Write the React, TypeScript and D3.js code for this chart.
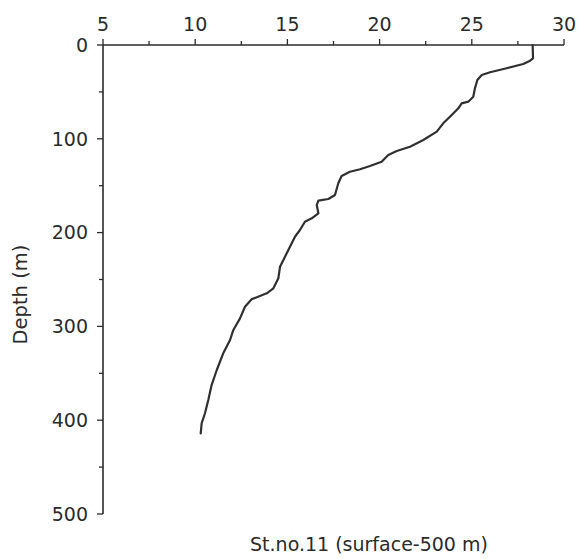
import * as d3 from 'd3';

// temperature (°C) vs depth (m)
const temperature = [
  28.3, 28.32, 28.16, 27.79, 26.89, 25.99, 25.54, 25.3, 25.17, 25.08, 24.81, 24.45, 24.27,
  23.91, 23.45, 23.1, 22.37, 21.65, 20.93, 20.47, 20.11, 19.48, 18.94, 18.39, 17.94, 17.76,
  17.58, 17.22, 16.68, 16.59, 16.68, 16.32, 15.95, 15.68, 15.41, 15.14, 14.87, 14.6, 14.51,
  14.24, 13.88, 13.06, 12.7, 12.43, 12.07, 11.89, 11.52, 11.17, 10.89, 10.71, 10.53, 10.35, 10.3,
];
const depth = [
  0, 14.2, 16.7, 20.3, 24.8, 29.1, 32.0, 37.3, 46.2, 55.1, 60.4, 62.2, 67.5,
  74.6, 83.5, 92.4, 101.3, 108.4, 113.0, 117.3, 124.4, 129.0, 132.5, 135.1, 139.7, 147.4,
  159.9, 164.2, 166.0, 170.6, 179.4, 184.8, 188.4, 197.2, 204.4, 215.0, 225.7, 236.4, 248.7,
  259.4, 264.7, 271.1, 279.0, 291.4, 303.8, 314.5, 328.7, 346.5, 362.5, 378.5, 392.6, 403.3, 414.0,
];
const xTicks = [5, 10, 15, 20, 25, 30];
const xMinor = [7.5, 12.5, 17.5, 22.5, 27.5];
const yTicks = [0, 100, 200, 300, 400, 500];
const yMinor = [50, 150, 250, 350, 450];

const width = 579;
const height = 559;
const ink = '#2b2b2b';
const font = '"DejaVu Sans", Verdana, sans-serif';

export default function App() {
  const x = d3.scaleLinear().domain([5, 30]).range([103, 564]);
  const y = d3.scaleLinear().domain([0, 500]).range([45, 514]);

  const line = d3
    .line<number>()
    .x((d) => x(d))
    .y((_, i) => y(depth[i]));

  return (
    <svg
      width={width}
      height={height}
      style={{ position: 'absolute', left: 0, top: 0, background: '#fff' }}
      fontFamily={font}
    >
      {/* top temperature axis */}
      <line x1={x(5)} x2={x(30)} y1={y(0)} y2={y(0)} stroke={ink} strokeWidth={1.6} />
      {xTicks.map((t) => (
        <g key={'xt' + t}>
          <line x1={x(t)} x2={x(t)} y1={y(0)} y2={y(0) - 6} stroke={ink} strokeWidth={1.3} />
          <text x={x(t)} y={31} textAnchor="middle" fontSize={19} fill={ink}>
            {t}
          </text>
        </g>
      ))}
      {xMinor.map((t) => (
        <line key={'xm' + t} x1={x(t)} x2={x(t)} y1={y(0)} y2={y(0) - 4} stroke={ink} strokeWidth={1.3} />
      ))}

      {/* depth axis */}
      <line x1={x(5)} x2={x(5)} y1={y(0)} y2={y(500)} stroke={ink} strokeWidth={1.6} />
      {yTicks.map((t) => (
        <g key={'yt' + t}>
          <line x1={x(5)} x2={x(5) - 6} y1={y(t)} y2={y(t)} stroke={ink} strokeWidth={1.3} />
          <text x={x(5) - 15} y={y(t)} dy="0.36em" textAnchor="end" fontSize={19} fill={ink}>
            {t}
          </text>
        </g>
      ))}
      {yMinor.map((t) => (
        <line key={'ym' + t} x1={x(5)} x2={x(5) - 4} y1={y(t)} y2={y(t)} stroke={ink} strokeWidth={1.3} />
      ))}

      <text
        transform={`translate(27,${y(266)}) rotate(-90)`}
        textAnchor="middle"
        fontSize={19.5}
        fill={ink}
      >
        Depth (m)
      </text>

      <path
        d={line(temperature) ?? ''}
        fill="none"
        stroke="#303030"
        strokeWidth={2.2}
        strokeLinejoin="round"
        strokeLinecap="round"
      />

      <text x={369} y={551} textAnchor="middle" fontSize={19} fill={ink}>
        St.no.11 (surface-500 m)
      </text>
    </svg>
  );
}
